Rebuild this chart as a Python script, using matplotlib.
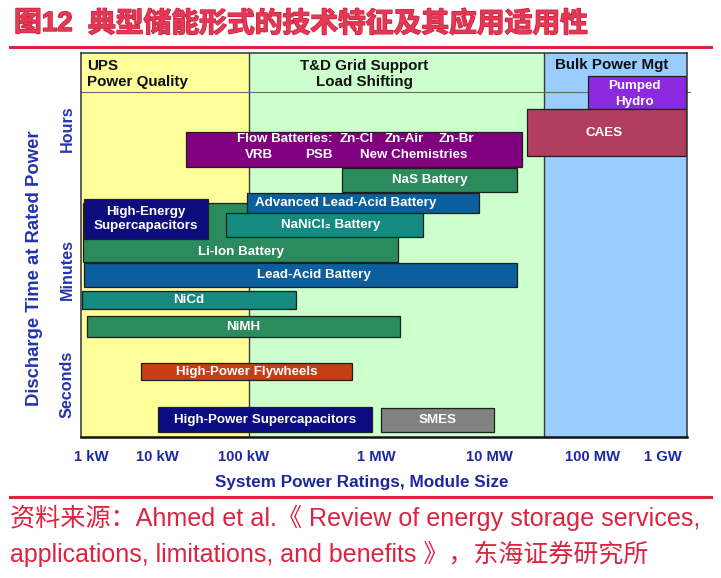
import numpy as np
import matplotlib
matplotlib.use('Agg')
import matplotlib.pyplot as plt
from matplotlib.lines import Line2D
import matplotlib.patheffects as pe

plt.rcParams['font.family'] = ['Liberation Sans', 'Noto Sans CJK SC', 'DejaVu Sans']

# ---------------- data ----------------
TICK_KW = [1, 10, 100, 1e3, 1e4, 1e5, 1e6]
TICK_LABELS = ['1 kW', '10 kW', '100 kW', '1 MW', '10 MW', '100 MW', '1 GW']

TIME_TICKS = [53, 167, 308]
TIME_LABELS = ['Seconds', 'Minutes', 'Hours']

BAND_EDGES_KW = [110, 34000]
BAND_NAMES = ['UPS\nPower Quality', 'T&D Grid Support\nLoad Shifting', 'Bulk Power Mgt']

technologies = ['Pumped\nHydro', 'CAES', '', 'NaS Battery', 'Li-Ion Battery',
                'Advanced Lead-Acid Battery', 'High-Energy\nSupercapacitors',
                'NaNiCl₂ Battery', 'Lead-Acid Battery', 'NiCd', 'NiMH',
                'High-Power Flywheels', 'High-Power Supercapacitors', 'SMES']
power_min_kw = [90000, 23000, 21.7, 552, 0.765, 108, 0.77, 63, 0.78, 0.73, 0.88, 5.72, 10.2, 1107]
power_max_kw = [2.11e6, 2.12e6, 20600, 18700, 1556, 8200, 39.5, 2620, 18700, 249, 1630, 664, 938, 11250]
discharge_lo = [327.7, 281.3, 270.3, 244.7, 175.3, 224.3, 197.7, 199.7, 150.3, 127.7, 99.7, 57, 4.7, 5.3]
discharge_hi = [361, 327.7, 305.3, 269.3, 234.3, 243.7, 238, 223.7, 174.3, 146.3, 121.3, 73.7, 29.7, 28.7]

FLOW_LINE1 = ['Flow Batteries:', 'Zn-Cl', 'Zn-Air', 'Zn-Br']
FLOW_LINE2 = ['VRB', 'PSB', 'New Chemistries']

# ---------------- style ----------------
bar_colors = ['#8c28e0', '#b03e5c', '#800080', '#2b8b5c', '#2b8b5c', '#0b5f9c', '#0c0c7c',
              '#148a80', '#0b5f9c', '#148a80', '#2b8b5c', '#c63e14', '#0c0c82', '#828282']
band_colors = ['#ffff99', '#ccffcc', '#99ccff']
label_offsets_pt = {5: (-12.5, 0), 7: (4.7, 0), 8: (9.4, 0), 4: (0, -14), 0: (-2, -1), 1: (-1.5, 0)}
label_spacing = {0: 1.42, 6: 1.15}
RED = '#dc2340'
BLUE = '#1c27a2'

W, H = 721, 578
def fx(p):
    return p / W
def fy(p):
    return 1 - p / H

# schematic (non-uniform) power axis
LOG_ANCHORS = [-1, 0, 1, 2, 3, 4, 5, 6, 7]
POS_ANCHORS = [25, 91, 157, 243, 376, 489, 593, 663, 733]
def fwd(x):
    x = np.asarray(x, dtype=float)
    return np.interp(np.log10(np.clip(x, 1e-9, None)), LOG_ANCHORS, POS_ANCHORS)
def inv(p):
    return 10 ** np.interp(np.asarray(p, dtype=float), POS_ANCHORS, LOG_ANCHORS)

fig = plt.figure(figsize=(W / 100, H / 100), dpi=100)
ax = fig.add_axes([fx(81), fy(437), (687 - 81) / W, (437 - 53) / H])
ax.set_xscale('function', functions=(fwd, inv))
xlim = (float(inv(81)), float(inv(687)))
ax.set_xlim(*xlim)
ax.set_ylim(0, 384)

# background bands
edges = [xlim[0]] + BAND_EDGES_KW + [xlim[1]]
for i in range(3):
    ax.axvspan(edges[i], edges[i + 1], color=band_colors[i], zorder=0, lw=0)
for e in BAND_EDGES_KW:
    ax.axvline(e, color='#3a3a3a', lw=1.0, zorder=1)
ax.plot([xlim[0], float(inv(690))], [345, 345], color='#6a6a6a', lw=0.8, zorder=1, clip_on=False)

# band headers
ax.text(fx(87), fy(74), BAND_NAMES[0], transform=fig.transFigure, ha='left', va='center',
        fontsize=10.9, fontweight='bold', color='#111111', linespacing=1.17)
ax.text(fx(364), fy(74), BAND_NAMES[1], transform=fig.transFigure, ha='center', va='center',
        fontsize=10.9, fontweight='bold', color='#111111', linespacing=1.17, multialignment='center')
ax.text(fx(612), fy(65), BAND_NAMES[2], transform=fig.transFigure, ha='center', va='center',
        fontsize=10.9, fontweight='bold', color='#111111')

# bars
for i, name in enumerate(technologies):
    l, r = power_min_kw[i], power_max_kw[i]
    lo, hi = discharge_lo[i], discharge_hi[i]
    ax.barh((lo + hi) / 2, r - l, left=l, height=hi - lo, color=bar_colors[i],
            edgecolor='#1e1e1e', linewidth=0.9, zorder=3 + i)
    if name:
        cx = float(inv((fwd(l) + fwd(r)) / 2))
        dx, dy = label_offsets_pt.get(i, (0, 0))
        ax.annotate(name, xy=(cx, (lo + hi) / 2), xytext=(dx, dy), textcoords='offset points',
                    ha='center', va='center', color='white', fontsize=9.6, fontweight='bold',
                    zorder=30, linespacing=label_spacing.get(i, 1.12), multialignment='center')

# flow batteries multi-part label
for txt, px in zip(FLOW_LINE1, [236.7, 340, 385, 439]):
    fig.text(fx(px), fy(139.5), txt, ha='left', va='center', color='white', fontsize=9.6,
             fontweight='bold', zorder=30)
for txt, px in zip(FLOW_LINE2, [245, 305, 360]):
    fig.text(fx(px), fy(155.5), txt, ha='left', va='center', color='white', fontsize=9.6,
             fontweight='bold', zorder=30)

# axes styling
ax.set_xticks(TICK_KW, TICK_LABELS)
ax.xaxis.set_minor_locator(matplotlib.ticker.NullLocator())
ax.tick_params(axis='x', length=0, pad=9.5, labelsize=10.7, labelcolor=BLUE)
for t in ax.get_xticklabels():
    t.set_fontweight('bold')
ax.set_yticks(TIME_TICKS, TIME_LABELS)
ax.tick_params(axis='y', length=0, pad=4.5, labelsize=11.6, labelcolor='#2533b0')
for t in ax.get_yticklabels():
    t.set_rotation(90)
    t.set_va('center')
    t.set_fontweight('bold')
for s in ax.spines.values():
    s.set_color('#333333')
    s.set_linewidth(1.1)
    s.set_zorder(40)
ax.spines['bottom'].set_linewidth(1.8)
ax.spines['bottom'].set_color('#111111')

fig.text(fx(362), fy(483), 'System Power Ratings, Module Size', ha='center', va='center',
         fontsize=12.3, fontweight='bold', color=BLUE)
fig.text(fx(35), fy(268), 'Discharge Time at Rated Power', ha='center', va='center',
         rotation=90, fontsize=13.3, fontweight='bold', color='#2533b0')

# title (red lettering with a faint outline)
title_fx = [pe.Stroke(linewidth=1.0, foreground='#d01c3a'), pe.Normal()]
fig.text(fx(14), fy(24), '图12', ha='left', va='center', fontsize=20, fontweight='bold',
         color='#e23a56', family=['Liberation Sans', 'Noto Sans CJK SC'], path_effects=title_fx)
fig.text(fx(88), fy(24), '典型储能形式的技术特征及其应用适用性', ha='left', va='center', fontsize=20,
         fontweight='bold', color='#e23a56', family=['Noto Sans CJK SC'], path_effects=title_fx)
fig.add_artist(Line2D([fx(10), fx(711)], [fy(47), fy(47)], color=RED, lw=2.2))
fig.add_artist(Line2D([fx(10), fx(711)], [fy(497), fy(497)], color=RED, lw=2.2))

# footer
fig.text(fx(10), fy(518), '资料来源：Ahmed et al.《 Review of energy storage services,',
         ha='left', va='center', fontsize=18.1, color=RED)
fig.text(fx(10), fy(554), 'applications, limitations, and benefits 》，东海证券研究所',
         ha='left', va='center', fontsize=18, color=RED)

fig.savefig('out.png', dpi=100)
